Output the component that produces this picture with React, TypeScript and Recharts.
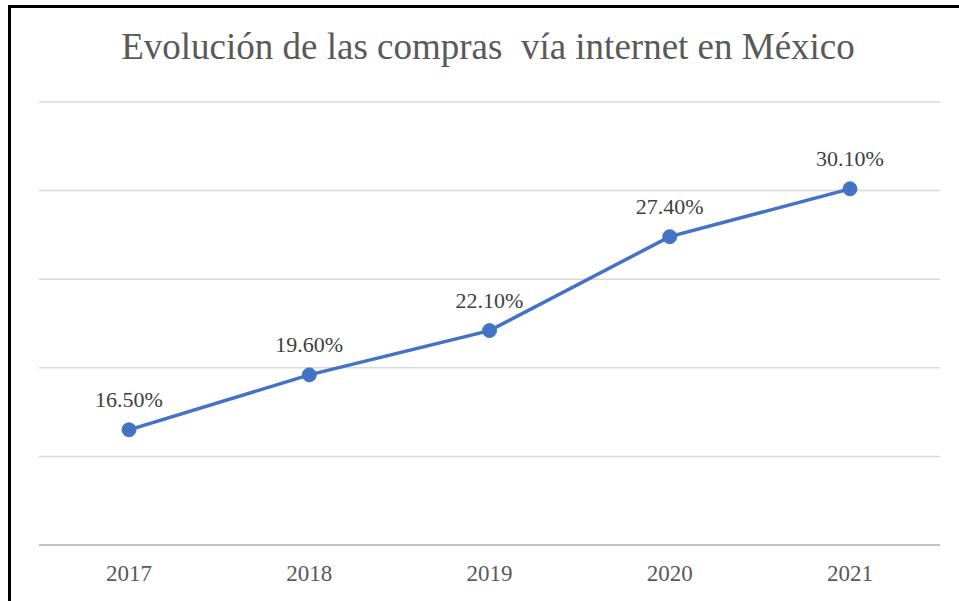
import React from 'react';
import { LineChart, Line, XAxis, YAxis, CartesianGrid, LabelList } from 'recharts';

const years = ['2017', '2018', '2019', '2020', '2021'];
const share = [16.5, 19.6, 22.1, 27.4, 30.1];
const yTicks = [10, 15, 20, 25, 30, 35];

const data = years.map((year, i) => ({ year, value: share[i] }));

const fmt = (v: number) => `${Number(v).toFixed(2)}%`;

const App: React.FC = () => {
  return (
    <div
      style={{
        position: 'fixed',
        left: 0,
        top: 0,
        width: 959,
        height: 601,
        overflow: 'hidden',
        background: '#fff',
        fontFamily: '"Liberation Serif", "Times New Roman", serif',
      }}
    >
      {/* chart frame, cut off at the right and bottom */}
      <div
        style={{
          position: 'absolute',
          left: 8,
          top: 5,
          width: 1000,
          height: 700,
          borderLeft: '3px solid #000',
          borderTop: '3px solid #000',
        }}
      />
      <div
        style={{
          position: 'absolute',
          left: 0,
          top: 25,
          width: 976,
          textAlign: 'center',
          fontSize: 37,
          color: '#595959',
          whiteSpace: 'pre',
        }}
      >
        Evolución de las compras  vía internet en México
      </div>
      <div style={{ position: 'absolute', left: 0, top: 0 }}>
        <LineChart
          width={959}
          height={601}
          data={data}
          margin={{ top: 102, right: 19, left: 39, bottom: 16 }}
        >
          <CartesianGrid vertical={false} stroke="#d9d9d9" strokeWidth={1.5} />
          <XAxis
            dataKey="year"
            height={40}
            padding={{ left: 90, right: 90 }}
            axisLine={{ stroke: '#bfbfbf', strokeWidth: 2 }}
            tickLine={false}
            tickSize={0}
            tickMargin={20}
            tick={{ fill: '#595959', fontSize: 23, fontFamily: '"Liberation Serif", serif' }}
          />
          <YAxis hide domain={[10, 35]} ticks={yTicks} />
          <Line
            type="linear"
            dataKey="value"
            stroke="#4472c4"
            strokeWidth={3.5}
            dot={{ r: 7, fill: '#4472c4', stroke: '#4472c4', strokeWidth: 1 }}
            isAnimationActive={false}
          >
            <LabelList
              dataKey="value"
              position="top"
              offset={23}
              formatter={fmt}
              fill="#404040"
              fontSize={22}
              fontFamily='"Liberation Serif", serif'
            />
          </Line>
        </LineChart>
      </div>
    </div>
  );
};

export default App;
